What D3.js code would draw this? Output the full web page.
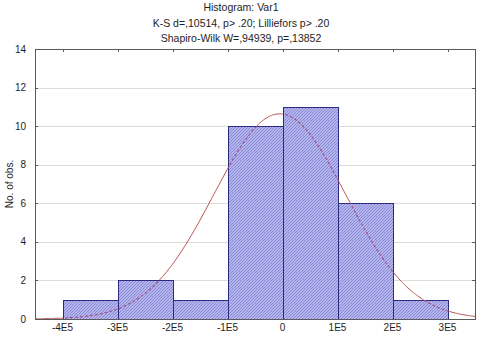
<!DOCTYPE html>
<html>
<head>
<meta charset="utf-8">
<script src="https://cdn.jsdelivr.net/npm/d3@7"></script>
<style>
  html, body { margin: 0; padding: 0; background: #fff; }
  svg { display: block; font-family: "Liberation Sans", Arial, sans-serif; }
</style>
</head>
<body>
<div id="chart"></div>
<script>
// ---- Data ----
const titleLines = [
  'Histogram: Var1',
  'K-S d=,10514, p> .20; Lilliefors p> .20',
  'Shapiro-Wilk W=,94939, p=,13852'
];
const binStarts = [-4e5, -3e5, -2e5, -1e5, 0, 1e5, 2e5];
const counts = [1, 2, 1, 10, 11, 6, 1];
const binWidth = 1e5;
const xTicks = [-4e5, -3e5, -2e5, -1e5, 0, 1e5, 2e5, 3e5];
const xTickLabels = ['-4E5', '-3E5', '-2E5', '-1E5', '0', '1E5', '2E5', '3E5'];
const yTicks = [0, 2, 4, 6, 8, 10, 12, 14];
const xDomain = [-4.5e5, 3.5e5];
const yDomain = [0, 14];
// fitted normal curve parameters
const fitMean = -5000;
const fitSd = 1.2e5;

const W = 480, H = 341;
const margin = { top: 49, right: 5, bottom: 22, left: 35 };
const innerWidth = W - margin.left - margin.right;
const innerHeight = H - margin.top - margin.bottom;

const svg = d3.select('#chart').append('svg')
  .attr('width', W).attr('height', H);
const defs = svg.append('defs');

// hatch fill like the original
const pat = defs.append('pattern')
  .attr('id', 'hatch').attr('patternUnits', 'userSpaceOnUse')
  .attr('width', 3).attr('height', 3);
pat.append('rect').attr('width', 3).attr('height', 3).attr('fill', '#b4b4ef');
pat.append('path').attr('d', 'M0,3 L3,0').attr('stroke', '#8a8ad4').attr('stroke-width', 1);

const x = d3.scaleLinear().domain(xDomain).range([0, innerWidth]);
const y = d3.scaleLinear().domain(yDomain).range([innerHeight, 0]);

const g = svg.append('g').attr('transform', `translate(${margin.left},${margin.top})`);

// ---- Titles ----
svg.selectAll('.title').data(titleLines).join('text')
  .attr('class', 'title')
  .attr('x', W / 2 + 1)
  .attr('y', (_, i) => 11 + i * 15.5)
  .attr('text-anchor', 'middle')
  .attr('font-size', '10.5px')
  .attr('fill', '#1e1e1e')
  .text(d => d);

// ---- Grid ----
g.append('g')
  .selectAll('line').data(yTicks.filter(d => d > 0 && d < 14)).join('line')
  .attr('x1', 0).attr('x2', innerWidth)
  .attr('y1', d => Math.round(y(d)) + 0.5).attr('y2', d => Math.round(y(d)) + 0.5)
  .attr('stroke', '#dcdcdc').attr('stroke-width', 1);

// ---- Bars ----
const bars = counts.map((c, i) => ({ x0: binStarts[i], x1: binStarts[i] + binWidth, c }));

const clip = defs.append('clipPath').attr('id', 'barClip');
clip.selectAll('rect').data(bars).join('rect')
  .attr('x', d => x(d.x0)).attr('width', d => x(d.x1) - x(d.x0))
  .attr('y', d => y(d.c)).attr('height', d => innerHeight - y(d.c));

const mask = defs.append('mask').attr('id', 'outsideBars');
mask.append('rect').attr('x', -5).attr('y', -5)
  .attr('width', innerWidth + 10).attr('height', innerHeight + 10).attr('fill', '#fff');
mask.selectAll('.m').data(bars).join('rect').attr('class', 'm')
  .attr('x', d => x(d.x0)).attr('width', d => x(d.x1) - x(d.x0))
  .attr('y', d => y(d.c)).attr('height', d => innerHeight - y(d.c))
  .attr('fill', '#000');

g.selectAll('.bar').data(bars).join('rect')
  .attr('class', 'bar')
  .attr('x', d => Math.round(x(d.x0)) + 0.5)
  .attr('width', d => Math.round(x(d.x1)) - Math.round(x(d.x0)))
  .attr('y', d => Math.round(y(d.c)) + 0.5)
  .attr('height', d => Math.round(innerHeight) - Math.round(y(d.c)))
  .attr('fill', 'url(#hatch)')
  .attr('stroke', '#2a2a80')
  .attr('stroke-width', 1);

// ---- Normal fit ----
const n = d3.sum(counts);
const pdf = v => n * binWidth / (fitSd * Math.sqrt(2 * Math.PI)) *
  Math.exp(-0.5 * ((v - fitMean) / fitSd) ** 2);
const curvePts = d3.range(xDomain[0], xDomain[1] + 1, 2000).map(v => [v, pdf(v)]);
const line = d3.line().x(d => x(d[0])).y(d => y(d[1])).curve(d3.curveLinear);

g.append('path').datum(curvePts)
  .attr('d', line).attr('fill', 'none')
  .attr('stroke', '#b85050').attr('stroke-width', 1)
  .attr('mask', 'url(#outsideBars)');
g.append('path').datum(curvePts)
  .attr('d', line).attr('fill', 'none')
  .attr('stroke', '#a05078').attr('stroke-width', 1.1)
  .attr('stroke-dasharray', '3,2')
  .attr('clip-path', 'url(#barClip)');

// ---- Frame and ticks ----
g.append('rect')
  .attr('x', 0.5).attr('y', 0.5)
  .attr('width', innerWidth).attr('height', innerHeight)
  .attr('fill', 'none').attr('stroke', '#5a5a5a');

g.append('g').selectAll('line').data(xTicks).join('line')
  .attr('x1', d => Math.round(x(d)) + 0.5).attr('x2', d => Math.round(x(d)) + 0.5)
  .attr('y1', 0).attr('y2', 3)
  .attr('stroke', '#5a5a5a');
g.append('g').selectAll('line').data(yTicks).join('line')
  .attr('x1', 0).attr('x2', 3)
  .attr('y1', d => Math.round(y(d)) + 0.5).attr('y2', d => Math.round(y(d)) + 0.5)
  .attr('stroke', '#5a5a5a');
g.append('g').selectAll('line').data(yTicks).join('line')
  .attr('x1', innerWidth - 3).attr('x2', innerWidth)
  .attr('y1', d => Math.round(y(d)) + 0.5).attr('y2', d => Math.round(y(d)) + 0.5)
  .attr('stroke', '#5a5a5a');

// ---- Tick labels ----
g.append('g').selectAll('text').data(xTicks).join('text')
  .attr('x', d => x(d))
  .attr('y', innerHeight + 12)
  .attr('text-anchor', 'middle')
  .attr('font-size', '10px')
  .attr('fill', '#1e1e1e')
  .text((_, i) => xTickLabels[i]);

g.append('g').selectAll('text').data(yTicks).join('text')
  .attr('x', -9)
  .attr('y', d => y(d) + 3.5)
  .attr('text-anchor', 'end')
  .attr('font-size', '10px')
  .attr('fill', '#1e1e1e')
  .text(d => d);

// ---- Y label ----
svg.append('text')
  .attr('transform', `translate(13,${margin.top + innerHeight / 2}) rotate(-90)`)
  .attr('text-anchor', 'middle')
  .attr('font-size', '10px')
  .attr('fill', '#1e1e1e')
  .text('No. of obs.');
</script>
</body>
</html>
